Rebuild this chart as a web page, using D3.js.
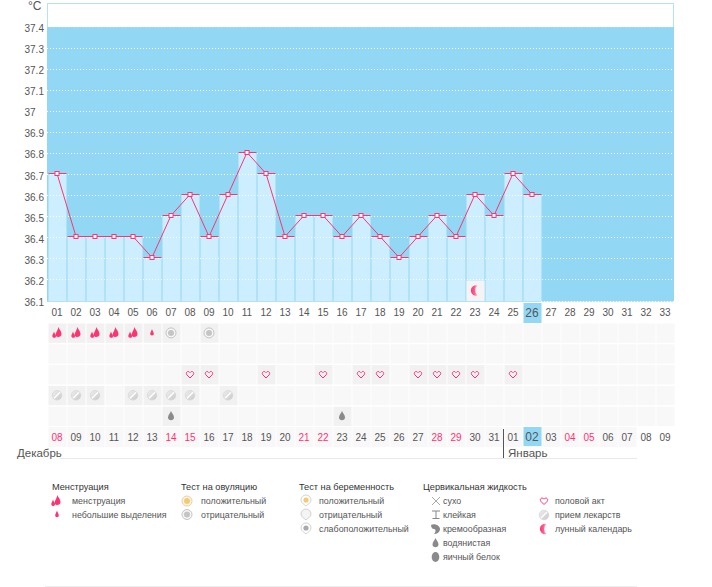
<!DOCTYPE html>
<html><head><meta charset="utf-8">
<script src="https://cdn.jsdelivr.net/npm/d3@7/dist/d3.min.js"></script>
<style>html,body{margin:0;padding:0;background:#fff}svg{display:block}text{font-family:"Liberation Sans",sans-serif}</style>
</head><body><svg id="c" width="712" height="587"></svg>
<script>
const dayLabels=["01","02","03","04","05","06","07","08","09","10","11","12","13","14","15","16","17","18","19","20","21","22","23","24","25","26","27","28","29","30","31","32","33"];
const temps=[36.7,36.4,36.4,36.4,36.4,36.3,36.5,36.6,36.4,36.6,36.8,36.7,36.4,36.5,36.5,36.4,36.5,36.4,36.3,36.4,36.5,36.4,36.6,36.5,36.7,36.6];
const yTicks=[36.1,36.2,36.3,36.4,36.5,36.6,36.7,36.8,36.9,37,37.1,37.2,37.3,37.4];
const dateLabels=["08","09","10","11","12","13","14","15","16","17","18","19","20","21","22","23","24","25","26","27","28","29","30","31","01","02","03","04","05","06","07","08","09"];
const redDates=[0,6,7,13,14,20,21,27,28];
const heavyDays=[1,2,3,4,5], lightDays=[6], ovulNegDays=[7,9];
const heartDays=[8,9,12,15,17,18,20,21,22,23,25];
const pillDays=[1,2,3,5,6,7,8,10];
const dropDays=[7,16];
const moonDays=[23];
const currentDay=26;

const svg=d3.select("#c");
const defs=svg.append("defs");
const mg=defs.append("linearGradient").attr("id","moonG");
mg.append("stop").attr("offset","0").attr("stop-color","#ff3371");
mg.append("stop").attr("offset","0.55").attr("stop-color","#ff5f90");
mg.append("stop").attr("offset","1").attr("stop-color","#ffc4d6");
const pg=defs.append("linearGradient").attr("id","pillG").attr("x1",0).attr("y1",0).attr("x2",1).attr("y2",1);
pg.append("stop").attr("offset","0").attr("stop-color","#f0f0f0");
pg.append("stop").attr("offset","1").attr("stop-color","#c8c8c8");
const x=d3.scaleBand().domain(d3.range(1,34)).range([47.5,674.5]).paddingInner(0).paddingOuter(0);
const y=d3.scaleLinear().domain([36.1,37.4]).range([301,27]);
const rowY=d3.scaleBand().domain(d3.range(5)).range([323,427]);
const cx=d=>x(d)+x.bandwidth()/2;
const py=v=>Math.floor(y(v))-.5;
const PINK="#ff3371",BLUE="#92d8f5",LIGHT="#cdeeff",GREY="#555";

svg.append("rect").attr("x",47.5).attr("y",3.5).attr("width",626).attr("height",298).attr("fill","#fff").attr("stroke","#b5e2f6");
svg.append("rect").attr("x",47).attr("y",27).attr("width",627).attr("height",274).attr("fill",BLUE);

svg.append("g").selectAll("rect").data(temps).join("rect")
 .attr("x",(d,i)=>x(i+1)+1).attr("width",18)
 .attr("y",d=>py(d)).attr("height",d=>301-py(d)).attr("fill",LIGHT);

svg.append("g").selectAll("line").data(yTicks.slice(1)).join("line")
 .attr("x1",47).attr("x2",674).attr("y1",d=>Math.floor(y(d))+.5).attr("y2",d=>Math.floor(y(d))+.5)
 .attr("stroke","#fff").attr("stroke-dasharray","1 2").attr("opacity",d=>d==37.4?.2:.95);
svg.append("line").attr("x1",541).attr("x2",674).attr("y1",301.5).attr("y2",301.5).attr("stroke","#fff").attr("stroke-dasharray","1 2");

const axis=d3.axisLeft(y).tickValues(yTicks).tickSize(0).tickPadding(0).tickFormat(d=>String(d));
const ga=svg.append("g").attr("transform","translate(43,0)").call(axis);
ga.select(".domain").remove();
ga.selectAll("text").attr("fill",GREY).attr("font-size",10).attr("dy","0.6em").attr("text-anchor","start").attr("x",-18.5).attr("y",-1.5);
svg.append("text").attr("x",28).attr("y",10).attr("fill",GREY).attr("font-size",12).text("°C");

function moon(g,px,py,s=1){
  g.append("path").attr("transform",`translate(${px},${py}) scale(${s})`)
   .attr("d","M2.5-5A5.2 5.2 0 1 0 2.5 5A6.5 6.5 0 0 1 2.5-5Z").attr("fill","url(#moonG)");
}
function heart(g,px,py){
  g.append("path").attr("transform",`translate(${px},${py})`)
   .attr("d","M0 3.5L-3.2 .3C-4.6-1.6-2.8-3.6-1-2.8L0-1.8L1-2.8C2.8-3.6 4.6-1.6 3.2 .3Z").attr("fill","none").attr("stroke",PINK).attr("stroke-width",1);
}
function drops(g,px,py){
  g.append("path").attr("transform",`translate(${px},${py})`)
   .attr("d","M1.5-6C2-3.5 4.5-2 4.5 1C4.5 3 3 4 1 4C-1 4-1.5 2.5-1.2 .8C-.8-1 1-3.5 1.5-6ZM-3-1.5C-2.8 .5-.8 1.5-1 3.8C-1.2 5.4-4.7 5.4-4.7 3.2C-4.7 1.5-3.4 .5-3-1.5Z").attr("fill",PINK);
}
function drop(g,px,py){
  g.append("path").attr("transform",`translate(${px},${py})`)
   .attr("d","M0-4C.4-2 1.8-1.2 1.8 1.2C1.8 3-1.8 3-1.8 1.2C-1.8-1.2-.4-2 0-4Z").attr("fill",PINK);
}
function grayDrop(g,px,py,s=1){
  g.append("path").attr("transform",`translate(${px},${py}) scale(${s})`)
   .attr("d","M0-5C1-2.5 3-1 3 1.5C3 5-3 5-3 1.5C-3-1-1-2.5 0-5Z").attr("fill","#8a8a8a");
}
function pill(g,px,py){
  const p=g.append("g").attr("transform",`translate(${px},${py})`);
  p.append("circle").attr("r",4.8).attr("fill","url(#pillG)").attr("stroke","#d6d6d6").attr("stroke-width",.7);
  p.append("line").attr("x1",-3).attr("y1",3).attr("x2",3).attr("y2",-3).attr("stroke","#fff").attr("stroke-width",1.4);
}
function ovul(g,px,py,c1,c2){
  const p=g.append("g").attr("transform",`translate(${px},${py})`);
  p.append("circle").attr("r",5).attr("fill","#f6f6f6").attr("stroke",c2);
  p.append("circle").attr("r",3).attr("fill",c1);
}
function preg(g,px,py,fill,inner){
  const p=g.append("g").attr("transform",`translate(${px},${py})`);
  p.append("path").attr("d","M-5-1A5 5 0 0 1 5-1C5 2 2 3 0 5C-2 3-5 2-5-1Z").attr("fill",fill).attr("stroke","#c8c8c8").attr("stroke-width",.8);
  if(inner)p.append("circle").attr("r",2.6).attr("cy",-1).attr("fill",inner);
}

moonDays.forEach(d=>{
  svg.append("rect").attr("x",x(d)+1).attr("y",281).attr("width",18).attr("height",20).attr("fill","#f4f4f4");
  moon(svg,cx(d),290.5);
});

const line=d3.line().x((d,i)=>cx(i+1)).y(d=>py(d));
svg.append("path").attr("d",line(temps)).attr("fill","none").attr("stroke",PINK).attr("stroke-width",1);
svg.append("g").selectAll("line").data(temps).join("line")
 .attr("x1",(d,i)=>x(i+1)+1).attr("x2",(d,i)=>x(i+1)+19)
 .attr("y1",d=>py(d)).attr("y2",d=>py(d)).attr("stroke",PINK);
svg.append("g").selectAll("rect").data(temps).join("rect")
 .attr("x",(d,i)=>Math.floor(cx(i+1))-2.5+.5).attr("y",d=>py(d)-2)
 .attr("width",4).attr("height",4).attr("fill","#fff").attr("stroke",PINK);

svg.append("rect").attr("x",x(currentDay)+1).attr("y",303).attr("width",18).attr("height",20).attr("fill",BLUE);
svg.append("g").selectAll("text").data(dayLabels).join("text")
 .attr("x",(d,i)=>cx(i+1)).attr("y",(d,i)=>i+1==currentDay?317:316).attr("text-anchor","middle")
 .attr("font-size",(d,i)=>i+1==currentDay?12:10).attr("fill",GREY).text(d=>d);

const rows=[[...heavyDays,...lightDays,...ovulNegDays],[],heartDays,pillDays,dropDays];
rows.forEach((days,r)=>{
  svg.append("g").selectAll("rect").data(d3.range(1,34)).join("rect")
   .attr("x",d=>x(d)+1).attr("width",18).attr("y",rowY(r)+.5).attr("height",rowY.bandwidth()-1.5)
   .attr("fill",d=>days.includes(d)?"#f1f1f1":"#f9f8f9");
});
const rc=r=>rowY(r)+rowY.bandwidth()/2-.5;
heavyDays.forEach(d=>drops(svg,cx(d),rc(0)));
lightDays.forEach(d=>drop(svg,cx(d),rc(0)));
ovulNegDays.forEach(d=>ovul(svg,cx(d),rc(0),"#c4c4c4","#c4c4c4"));
heartDays.forEach(d=>heart(svg,cx(d),rc(2)));
pillDays.forEach(d=>pill(svg,cx(d),rc(3)));
dropDays.forEach(d=>grayDrop(svg,cx(d),rc(4)));

svg.append("g").selectAll("rect").data(d3.range(1,32)).join("rect")
 .attr("x",d=>x(d)+1).attr("width",18).attr("y",427).attr("height",20).attr("fill","#f9f8f9");
svg.append("rect").attr("x",x(currentDay)+1).attr("y",427).attr("width",18).attr("height",19).attr("fill",BLUE);
svg.append("g").selectAll("text").data(dateLabels).join("text")
 .attr("x",(d,i)=>cx(i+1)).attr("y",441).attr("text-anchor","middle")
 .attr("font-size",(d,i)=>i+1==currentDay?12:10)
 .attr("fill",(d,i)=>redDates.includes(i)?PINK:GREY).text(d=>d);

svg.append("line").attr("x1",60).attr("x2",637).attr("y1",458.5).attr("y2",458.5).attr("stroke","#e8eaea");
svg.append("line").attr("x1",503.5).attr("x2",503.5).attr("y1",429).attr("y2",458).attr("stroke","#555");
svg.append("text").attr("x",17).attr("y",457).attr("font-size",11.5).attr("fill",GREY).text("Декабрь");
svg.append("text").attr("x",508).attr("y",457).attr("font-size",11.5).attr("fill",GREY).text("Январь");
svg.append("line").attr("x1",45).attr("x2",637).attr("y1",586.5).attr("y2",586.5).attr("stroke","#eee");

const legendHeads=[["Менструация",52],["Тест на овуляцию",181],["Тест на беременность",299],["Цервикальная жидкость",423]];
const legendItems=[
 ["менструация",72,501,(g,y)=>drops(g,56,y)],
 ["небольшие выделения",72,514.5,(g,y)=>drop(g,57,y)],
 ["положительный",201,501,(g,y)=>ovul(g,187,y,"#f7c873","#f3d08c")],
 ["отрицательный",201,514.5,(g,y)=>ovul(g,187,y,"#c4c4c4","#c4c4c4")],
 ["положительный",319,501,(g,y)=>preg(g,306,y,"#fff","#f7c873")],
 ["отрицательный",319,515,(g,y)=>preg(g,306,y,"#f4f4f4",null)],
 ["слабоположительный",319,529,(g,y)=>preg(g,306,y,"#fff","#aaa")],
 ["сухо",443,501,(g,y)=>{g.append("path").attr("d",`M432 ${y-4}L440 ${y+4}M440 ${y-4}L432 ${y+4}`).attr("stroke","#aaa").attr("fill","none")}],
 ["клейкая",443,515,(g,y)=>{g.append("path").attr("d",`M432 ${y-4}H440M436 ${y-4}V${y+3}M432.5 ${y+3.5}H439.5`).attr("stroke","#888").attr("fill","none")}],
 ["кремообразная",443,529,(g,y)=>{g.append("path").attr("d",`M431 ${y-4}C435 ${y-6} 440 ${y-3} 440 ${y}C440 ${y+3} 437 ${y+5} 434 ${y+5}C436 ${y+3} 436 ${y} 434 ${y}C432 ${y} 431 ${y-2} 431 ${y-4}Z`).attr("fill","#888")}],
 ["водянистая",443,543,(g,y)=>grayDrop(g,435.5,y,1)],
 ["яичный белок",443,557,(g,y)=>{g.append("ellipse").attr("cx",435.5).attr("cy",y).attr("rx",3.8).attr("ry",5).attr("fill","#8a8a8a")}],
 ["половой акт",555,501,(g,y)=>heart(g,544,y)],
 ["прием лекарств",555,515,(g,y)=>pill(g,544,y)],
 ["лунный календарь",555,529,(g,y)=>moon(g,544,y)]
];
svg.append("g").selectAll("text").data(legendHeads).join("text")
 .attr("x",d=>d[1]).attr("y",490).attr("font-size",9.2).attr("fill","#333").text(d=>d[0]);
legendItems.forEach(([t,tx,ty,ic])=>{
  svg.append("text").attr("x",tx).attr("y",ty+3).attr("font-size",8.9).attr("fill",GREY).text(t);
  ic(svg,ty);
});
</script></body></html>
